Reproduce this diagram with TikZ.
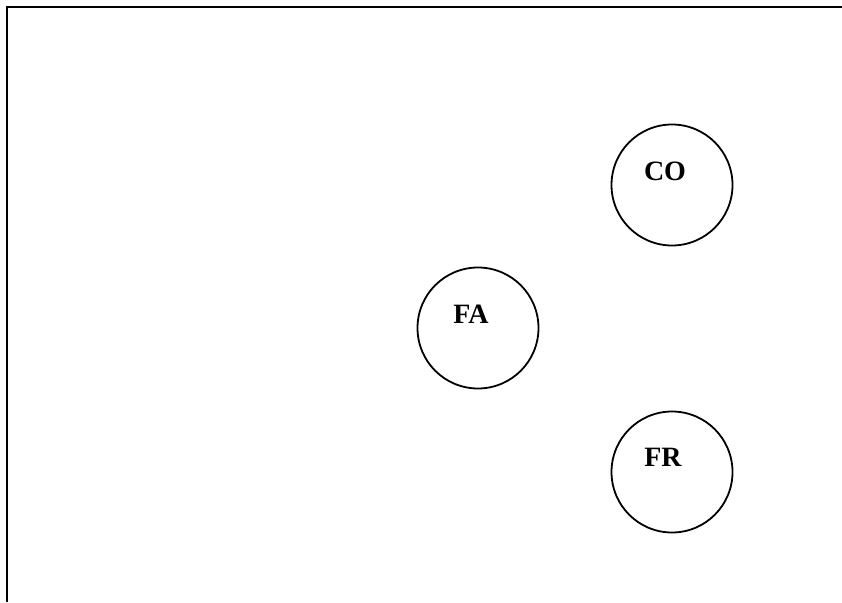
\documentclass[tikz,border=0pt]{standalone}
\usepackage{fontspec}
\setmainfont{Liberation Serif}
\begin{document}
\begin{tikzpicture}[x=1pt,y=-1pt,
  state/.style={draw=black,line width=1.8pt,circle,minimum size=121pt,inner sep=0pt},
  statelabel/.style={font=\fontsize{28}{31}\selectfont\bfseries,inner sep=0pt,anchor=center},
  frame/.style={line width=2.6pt,black}]
\useasboundingbox (0,0) rectangle (842,602);
\coordinate (tl) at (7,7);
\coordinate (tr) at (842,7);
\coordinate (bl) at (7,602);
\draw[frame] (tr) -- (tl) -- (bl);
\node[state] (co) at (672,185) {};
\node[state] (fa) at (478,328) {};
\node[state] (fr) at (672,472) {};
\node[statelabel] (colabel) at ([xshift=-7pt,yshift=14pt]co.center) {CO};
\node[statelabel] (falabel) at ([xshift=-7pt,yshift=14pt]fa.center) {FA};
\node[statelabel] (frlabel) at ([xshift=-9pt,yshift=15pt]fr.center) {FR};
\end{tikzpicture}
\end{document}
